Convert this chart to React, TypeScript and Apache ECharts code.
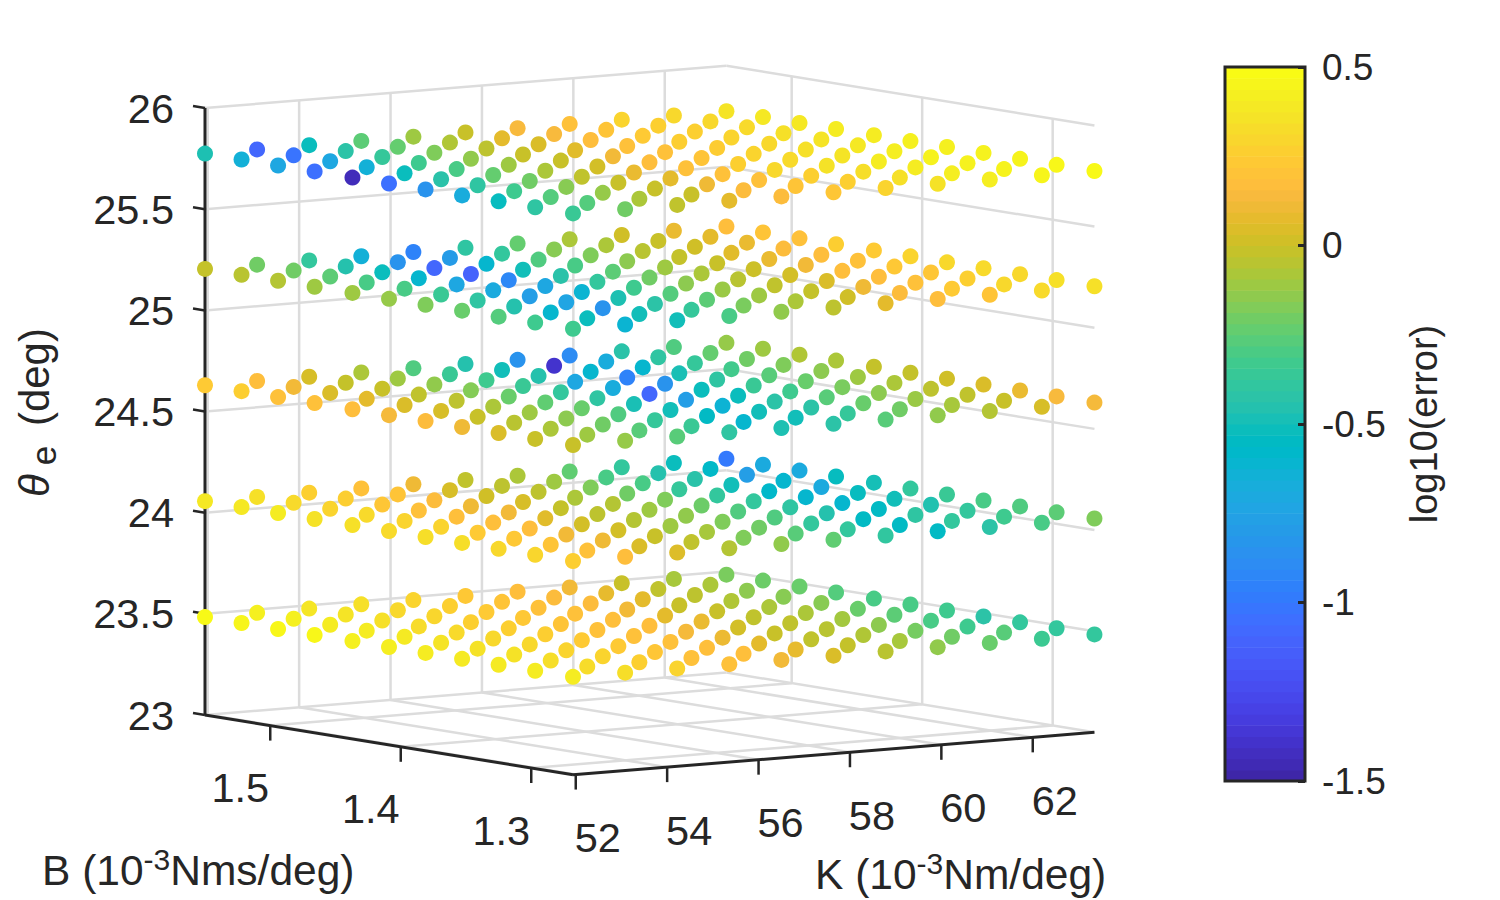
import * as echarts from "echarts";
import { useEffect, useRef } from "react";

// grid of the fit: rows follow B, columns follow K
const bValues = [1.55, 1.522, 1.494, 1.466, 1.437, 1.409, 1.381, 1.353, 1.325, 1.297, 1.268];
const kValues = [51.94, 53.08, 54.22, 55.36, 56.5, 57.64, 58.78, 59.92, 61.06, 62.2, 63.35];
const thetaValues = [23.484, 24.057, 24.63, 25.205, 25.775];

// log10(error)
const errorAt23 = [
  [0.49, 0.44, 0.39, 0.36, 0.3, 0.24, 0.18, 0.13, 0, -0.08, -0.18],
  [0.47, 0.44, 0.38, 0.32, 0.28, 0.22, 0.17, 0.09, -0.02, -0.07, -0.21],
  [0.48, 0.42, 0.36, 0.31, 0.25, 0.2, 0.17, 0.08, -0.03, -0.14, -0.22],
  [0.48, 0.42, 0.34, 0.28, 0.24, 0.2, 0.13, 0, -0.06, -0.15, -0.27],
  [0.44, 0.41, 0.33, 0.28, 0.22, 0.19, 0.08, 0, -0.07, -0.15, -0.3],
  [0.43, 0.38, 0.32, 0.27, 0.2, 0.18, 0.1, -0.02, -0.07, -0.22, -0.3],
  [0.42, 0.37, 0.32, 0.25, 0.2, 0.14, 0.03, -0.02, -0.09, -0.25, -0.33],
  [0.41, 0.37, 0.3, 0.25, 0.2, 0.11, 0, -0.04, -0.14, -0.3, -0.42],
  [0.41, 0.35, 0.3, 0.23, 0.19, 0.08, -0.02, -0.06, -0.19, -0.33, -0.38],
  [0.42, 0.34, 0.28, 0.2, 0.19, 0.09, -0.01, -0.08, -0.2, -0.26, -0.38],
  [0.42, 0.35, 0.3, 0.2, 0.13, 0.05, -0.04, -0.13, -0.22, -0.34, -0.38],
];
const errorAt24 = [
  [0.4, 0.36, 0.28, 0.2, 0.12, -0.02, -0.07, -0.24, -0.38, -0.52, -1.0],
  [0.4, 0.33, 0.27, 0.22, 0.04, -0.03, -0.1, -0.3, -0.45, -0.57, -0.7],
  [0.42, 0.3, 0.23, 0.17, 0.02, -0.03, -0.17, -0.3, -0.43, -0.78, -0.7],
  [0.37, 0.33, 0.2, 0.12, 0.04, -0.07, -0.2, -0.37, -0.5, -0.6, -0.53],
  [0.36, 0.3, 0.19, 0.13, -0.01, -0.05, -0.17, -0.38, -0.58, -0.7, -0.49],
  [0.33, 0.3, 0.19, 0.07, -0.03, -0.1, -0.21, -0.38, -0.6, -0.53, -0.38],
  [0.35, 0.25, 0.18, 0.03, -0.05, -0.13, -0.28, -0.4, -0.6, -0.5, -0.35],
  [0.35, 0.24, 0.13, 0.03, -0.1, -0.17, -0.28, -0.45, -0.55, -0.46, -0.3],
  [0.32, 0.22, 0.12, 0, -0.08, -0.2, -0.38, -0.55, -0.4, -0.38, -0.28],
  [0.31, 0.2, 0.05, -0.02, -0.17, -0.26, -0.38, -0.55, -0.38, -0.33, -0.25],
  [0.27, 0.18, 0.06, -0.05, -0.13, -0.24, -0.39, -0.55, -0.42, -0.3, -0.17],
];
const errorAt246 = [
  [0.25, 0.18, 0.04, -0.07, -0.28, -0.45, -0.85, -0.9, -0.43, -0.28, -0.12],
  [0.27, 0.13, -0.01, -0.1, -0.35, -0.5, -1.4, -0.68, -0.4, -0.23, -0.1],
  [0.2, 0.05, 0, -0.13, -0.33, -0.45, -0.6, -0.6, -0.37, -0.2, -0.06],
  [0.2, 0.08, -0.02, -0.16, -0.35, -0.72, -0.95, -0.48, -0.32, -0.17, -0.07],
  [0.18, 0.05, -0.03, -0.22, -0.38, -0.68, -0.85, -0.4, -0.26, -0.14, -0.01],
  [0.14, 0.04, -0.07, -0.24, -0.4, -1.1, -0.52, -0.35, -0.22, -0.1, -0.01],
  [0.17, 0, -0.1, -0.22, -0.48, -0.78, -0.52, -0.33, -0.18, -0.07, 0.02],
  [0.12, -0.04, -0.14, -0.28, -0.5, -0.63, -0.42, -0.26, -0.14, -0.03, 0.05],
  [0.05, -0.07, -0.2, -0.37, -0.55, -0.5, -0.42, -0.22, -0.11, -0.02, 0.1],
  [0, -0.1, -0.26, -0.35, -0.6, -0.5, -0.37, -0.2, -0.08, 0, 0.15],
  [0, -0.12, -0.26, -0.4, -0.47, -0.42, -0.26, -0.13, -0.05, 0.04, 0.14],
];
const errorAt252 = [
  [-0.01, -0.2, -0.38, -0.65, -0.95, -0.4, -0.23, -0.07, 0.02, 0.1, 0.18],
  [-0.04, -0.2, -0.45, -0.85, -0.8, -0.38, -0.15, -0.07, 0, 0.08, 0.22],
  [-0.05, -0.25, -0.52, -1.1, -0.6, -0.28, -0.17, -0.04, 0.02, 0.1, 0.2],
  [-0.1, -0.3, -0.6, -1.12, -0.5, -0.3, -0.14, -0.01, 0.07, 0.17, 0.27],
  [-0.1, -0.3, -0.72, -0.92, -0.43, -0.25, -0.1, 0, 0.1, 0.18, 0.25],
  [-0.12, -0.35, -0.7, -0.72, -0.38, -0.2, -0.07, 0.01, 0.13, 0.2, 0.3],
  [-0.17, -0.4, -0.78, -0.62, -0.33, -0.14, -0.04, 0.03, 0.18, 0.24, 0.32],
  [-0.22, -0.45, -0.74, -0.47, -0.27, -0.11, -0.02, 0.05, 0.18, 0.23, 0.33],
  [-0.27, -0.6, -0.85, -0.42, -0.25, -0.1, -0.01, 0.12, 0.2, 0.28, 0.32],
  [-0.33, -0.52, -0.5, -0.37, -0.18, -0.07, 0.02, 0.17, 0.25, 0.32, 0.36],
  [-0.33, -0.62, -0.5, -0.3, -0.13, -0.03, 0.08, 0.18, 0.22, 0.33, 0.36],
];
const errorAt258 = [
  [-0.47, -1.1, -0.52, -0.25, -0.1, 0, 0.15, 0.2, 0.3, 0.32, 0.38],
  [-0.65, -1.03, -0.42, -0.23, -0.06, 0.08, 0.15, 0.22, 0.28, 0.32, 0.4],
  [-0.72, -0.72, -0.37, -0.17, -0.03, 0.05, 0.18, 0.25, 0.28, 0.33, 0.4],
  [-1.05, -0.65, -0.33, -0.13, 0, 0.07, 0.2, 0.27, 0.3, 0.36, 0.42],
  [-1.45, -0.52, -0.3, -0.1, 0, 0.13, 0.2, 0.26, 0.32, 0.38, 0.42],
  [-1.05, -0.43, -0.23, -0.07, 0.03, 0.18, 0.22, 0.3, 0.36, 0.4, 0.44],
  [-0.85, -0.4, -0.2, -0.02, 0.1, 0.2, 0.28, 0.33, 0.38, 0.43, 0.44],
  [-0.68, -0.33, -0.15, 0, 0.08, 0.2, 0.32, 0.37, 0.42, 0.45, 0.45],
  [-0.53, -0.27, -0.12, 0, 0.12, 0.2, 0.28, 0.35, 0.42, 0.45, 0.46],
  [-0.4, -0.27, -0.07, 0, 0.17, 0.22, 0.28, 0.36, 0.43, 0.46, 0.48],
  [-0.35, -0.2, -0.02, 0.08, 0.17, 0.23, 0.3, 0.37, 0.43, 0.47, 0.49],
];
const errorLevels = [errorAt23, errorAt24, errorAt246, errorAt252, errorAt258];

const kTicks = [52, 54, 56, 58, 60, 62];
const bTicks = [1.5, 1.4, 1.3];
const thetaTicks = [23, 23.5, 24, 24.5, 25, 25.5, 26];

const parula = [
  "#3e26a8", "#402ab4", "#422ebf", "#4332cb", "#4537d5", "#463cde", "#4741e5", "#4747eb",
  "#484df0", "#4752f4", "#4758f8", "#465efa", "#4563fc", "#4269fe", "#3e6fff", "#3875fe",
  "#327bfc", "#2f81fa", "#2d87f7", "#2d8cf3", "#2b91ef", "#2796eb", "#259be7", "#23a0e5",
  "#20a5e3", "#1ca9df", "#18addb", "#11b1d6", "#08b5d0", "#01b8ca", "#02bac3", "#0bbdbc",
  "#18bfb6", "#24c1ae", "#2cc3a7", "#31c69f", "#37c897", "#3fca8e", "#4acb84", "#57cc7a",
  "#64cd6f", "#71cc64", "#81cc59", "#8fca4e", "#9dc943", "#abc739", "#b9c431", "#c5c22a",
  "#d1bf27", "#dcbd29", "#e6bb2d", "#efba36", "#f8ba3d", "#febe3c", "#fec338", "#fec934",
  "#fccf30", "#f9d62d", "#f7dc2a", "#f5e327", "#f5e924", "#f5ef20", "#f7f51b", "#f9fb15",
];

const barMin = -1.5;
const barMax = 0.5;
const font = "'Liberation Sans', Arial, sans-serif";
const axisColor = "#262626";
const gridColor = "#dcdcdc";

const kMin = kValues[0];
const kMax = kValues[kValues.length - 1];
const bMin = bValues[bValues.length - 1];
const bMax = bValues[0];

// fixed orthographic view of the MATLAB axes box
const project = (k: number, b: number, theta: number): [number, number] => [
  205 + (k - kMin) * 45.7 + (bMax - b) * 1305,
  715 + (k - kMin) * -3.72 + (bMax - b) * 212 - (theta - 23) * 202.3,
];

type Seg = [number, number, number, number];

const seg = (a: [number, number], b: [number, number]): Seg => [a[0], a[1], b[0], b[1]];

const wallLines: Seg[] = [
  ...kTicks.map((k) => seg(project(k, bMax, 23), project(k, bMax, 26))),
  ...bTicks.map((b) => seg(project(kMax, b, 23), project(kMax, b, 26))),
  ...thetaTicks.flatMap((t) => [
    seg(project(kMin, bMax, t), project(kMax, bMax, t)),
    seg(project(kMax, bMax, t), project(kMax, bMin, t)),
  ]),
  ...kTicks.map((k) => seg(project(k, bMax, 23), project(k, bMin, 23))),
  ...bTicks.map((b) => seg(project(kMin, b, 23), project(kMax, b, 23))),
];

const boxLines: Seg[] = [
  seg(project(kMin, bMax, 23), project(kMin, bMax, 26)),
  seg(project(kMin, bMax, 23), project(kMin, bMin, 23)),
  seg(project(kMin, bMin, 23), project(kMax, bMin, 23)),
];

const offset = (p: [number, number], dx: number, dy: number): [number, number] => [p[0] + dx, p[1] + dy];

const tickLines: Seg[] = [
  ...thetaTicks.map((t) => {
    const p = project(kMin, bMax, t);
    return seg(p, offset(p, -12, -2));
  }),
  ...bTicks.map((b) => {
    const p = project(kMin, b, 23);
    return seg(p, offset(p, 0, 15));
  }),
  ...kTicks.map((k) => {
    const p = project(k, bMin, 23);
    return seg(p, offset(p, 0, 15));
  }),
];

const tickLabels: [number, number, string, string][] = [
  ...thetaTicks.map((t): [number, number, string, string] => {
    const p = project(kMin, bMax, t);
    return [p[0] - 31, p[1], String(t), "right"];
  }),
  ...bTicks.map((b): [number, number, string, string] => {
    const p = project(kMin, b, 23);
    return [p[0] - 30, p[1] + 62, b.toFixed(1), "center"];
  }),
  ...kTicks.map((k): [number, number, string, string] => {
    const p = project(k, bMin, 23);
    return [p[0] + 22, p[1] + 63, String(k), "center"];
  }),
];

const points: number[][] = [];
errorLevels.forEach((level, l) => {
  level.forEach((row, i) => {
    row.forEach((value, j) => {
      const p = project(kValues[j], bValues[i], thetaValues[l]);
      points.push([p[0], p[1], value]);
    });
  });
});

const barCells = parula.map((color, n) => ({
  value: [0, barMin + ((barMax - barMin) * n) / parula.length, barMin + ((barMax - barMin) * (n + 1)) / parula.length],
  itemStyle: { color },
}));

const segmentSeries = (data: Seg[], stroke: string, width: number, z: number) => ({
  type: "custom",
  coordinateSystem: "cartesian2d",
  xAxisIndex: 0,
  yAxisIndex: 0,
  silent: true,
  clip: false,
  z,
  data,
  encode: { x: [0, 2], y: [1, 3] },
  renderItem: (_: any, api: any) => {
    const a = api.coord([api.value(0), api.value(1)]);
    const b = api.coord([api.value(2), api.value(3)]);
    return {
      type: "line",
      shape: { x1: a[0], y1: a[1], x2: b[0], y2: b[1] },
      style: { stroke, lineWidth: width, fill: "none" },
    };
  },
});

const scriptText = (text: string, x: number, y: number, rich: any, rotation = 0) => ({
  type: "text",
  x,
  y,
  rotation,
  style: { text, rich, fill: axisColor, font: `42px ${font}`, textAlign: "left", textVerticalAlign: "middle" },
});

const titleRich = {
  n: { fontSize: 42.5, fontFamily: font, fill: axisColor, lineHeight: 48, verticalAlign: "bottom" },
  s: { fontSize: 30, fontFamily: font, fill: axisColor, lineHeight: 48, verticalAlign: "top" },
};
const thetaRich = {
  t: { fontSize: 42, fontFamily: font, fontStyle: "italic", fill: axisColor, lineHeight: 48, verticalAlign: "top" },
  e: { fontSize: 35, fontFamily: font, fill: axisColor, lineHeight: 48, verticalAlign: "bottom", padding: [0, 8, 0, 9] },
  n: { fontSize: 42, fontFamily: font, fill: axisColor, lineHeight: 48, verticalAlign: "top" },
};

export default function App() {
  const ref = useRef<HTMLDivElement | null>(null);

  useEffect(() => {
    if (!ref.current) return;
    const chart = echarts.init(ref.current, undefined, { renderer: "svg" });
    chart.setOption({
      animation: false,
      backgroundColor: "#ffffff",
      grid: [
        { left: 0, top: 0, width: 1500, height: 900 },
        { left: 1225, top: 67, width: 80, height: 714 },
      ],
      xAxis: [
        { type: "value", gridIndex: 0, min: 0, max: 1500, show: false },
        { type: "value", gridIndex: 1, min: 0, max: 1, show: false },
      ],
      yAxis: [
        { type: "value", gridIndex: 0, min: 0, max: 900, inverse: true, show: false },
        {
          type: "value",
          gridIndex: 1,
          min: barMin,
          max: barMax,
          interval: 0.5,
          position: "right",
          splitLine: { show: false },
          axisLine: { show: false, onZero: false },
          axisTick: { show: true, inside: true, length: 7, lineStyle: { color: axisColor, width: 3 } },
          axisLabel: { color: axisColor, fontFamily: font, fontSize: 37, margin: 17, align: "left" },
          name: "log10(error)",
          nameLocation: "middle",
          nameRotate: 90,
          nameGap: 100,
          nameTextStyle: { color: axisColor, fontFamily: font, fontSize: 38 },
          z: 5,
        },
      ],
      visualMap: {
        show: false,
        type: "continuous",
        min: barMin,
        max: barMax,
        dimension: 2,
        seriesIndex: 3,
        inRange: { color: parula },
      },
      series: [
        segmentSeries(wallLines, gridColor, 2.5, 1),
        segmentSeries(boxLines, axisColor, 3, 2),
        segmentSeries(tickLines, axisColor, 2.5, 2),
        {
          type: "scatter",
          xAxisIndex: 0,
          yAxisIndex: 0,
          data: points,
          symbol: "circle",
          symbolSize: 16,
          itemStyle: { opacity: 1 },
          silent: true,
          z: 3,
        },
        {
          type: "custom",
          coordinateSystem: "cartesian2d",
          xAxisIndex: 0,
          yAxisIndex: 0,
          silent: true,
          clip: false,
          z: 4,
          data: tickLabels,
          encode: { x: 0, y: 1 },
          renderItem: (params: any, api: any) => {
            const row = tickLabels[params.dataIndex];
            const p = api.coord([row[0], row[1]]);
            return {
              type: "text",
              x: p[0],
              y: p[1],
              style: {
                text: row[2],
                fill: axisColor,
                font: `41.5px ${font}`,
                textAlign: row[3],
                textVerticalAlign: "middle",
              },
            };
          },
        },
        {
          type: "custom",
          coordinateSystem: "cartesian2d",
          xAxisIndex: 1,
          yAxisIndex: 1,
          silent: true,
          z: 1,
          data: barCells,
          encode: { y: [1, 2] },
          renderItem: (_: any, api: any) => {
            const a = api.coord([0, api.value(1)]);
            const b = api.coord([1, api.value(2)]);
            return {
              type: "rect",
              shape: { x: a[0], y: b[1], width: b[0] - a[0], height: a[1] - b[1] + 0.6 },
              style: { fill: api.visual("color") },
            };
          },
        },
      ],
      graphic: [
        {
          type: "rect",
          shape: { x: 1225, y: 67, width: 80, height: 714 },
          style: { fill: "none", stroke: axisColor, lineWidth: 3 },
          z: 10,
        },
        scriptText("{n|B (10}{s|-3}{n|Nms/deg)}", 42, 868, titleRich),
        scriptText("{n|K (10}{s|-3}{n|Nm/deg)}", 815, 872, titleRich),
        scriptText("{t|θ}{e|e}{n| (deg)}", 37, 497, thetaRich, Math.PI / 2),
      ],
    });
    return () => chart.dispose();
  }, []);

  return <div ref={ref} style={{ position: "absolute", left: 0, top: 0, width: 1500, height: 900 }} />;
}
